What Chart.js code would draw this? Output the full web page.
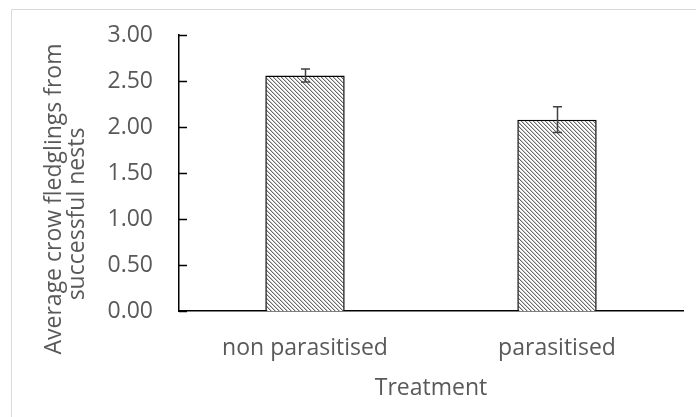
<!DOCTYPE html>
<html>
<head>
<meta charset="utf-8">
<script src="https://cdn.jsdelivr.net/npm/chart.js@4/dist/chart.umd.min.js"></script>
<style>
html,body{margin:0;padding:0;background:#fff;}
#wrap{width:696px;height:417px;position:relative;}
</style>
</head>
<body>
<div id="wrap"><canvas id="c" width="696" height="417"></canvas></div>
<script>
const categories = ["non parasitised", "parasitised"];
const means = [2.56, 2.08];
const errors = [0.07, 0.14];
const yTicks = [0, 0.5, 1, 1.5, 2, 2.5, 3];
const yTitle = ["Average crow fledglings from", "successful nests"];
const xTitle = "Treatment";

function makePattern() {
  const p = document.createElement('canvas');
  p.width = 4; p.height = 4;
  const g = p.getContext('2d');
  g.fillStyle = '#ffffff';
  g.fillRect(0, 0, 4, 4);
  g.fillStyle = '#6a6a6a';
  for (let i = 0; i < 4; i++) g.fillRect(i, i, 1, 1);
  g.fillStyle = '#c8c8c8';
  for (let i = 0; i < 4; i++) g.fillRect((i + 1) % 4, i, 1, 1);
  return g.createPattern(p, 'repeat');
}
const pattern = makePattern();

const TEXT = '#595959';
const FONT = "'Open Sans', sans-serif";
const FS = 23;

const frame = {
  id: 'frame',
  beforeDraw(chart) {
    const c = chart.ctx;
    c.save();
    c.strokeStyle = '#d9d9d9';
    c.lineWidth = 1;
    c.beginPath();
    c.moveTo(11.5, 417);
    c.lineTo(11.5, 9.5);
    c.lineTo(696, 9.5);
    c.stroke();
    c.restore();
  }
};

const yTitlePlugin = {
  id: 'yTitlePlugin',
  afterDraw(chart) {
    const c = chart.ctx;
    const xs = [54, 77];
    const ys = [199, 214];
    c.save();
    c.fillStyle = TEXT;
    c.font = FS + "px 'Open Sans', sans-serif";
    c.textAlign = 'center';
    c.textBaseline = 'middle';
    yTitle.forEach((t, i) => {
      c.save();
      c.translate(xs[i], ys[i]);
      c.rotate(-Math.PI / 2);
      c.fillText(t, 0, 0);
      c.restore();
    });
    c.restore();
  }
};

const extras = {
  id: 'extras',
  afterDatasetsDraw(chart) {
    const c = chart.ctx;
    const y = chart.scales.y;
    const ca = chart.chartArea;
    c.save();
    c.strokeStyle = '#000';
    c.lineWidth = 1.5;
    yTicks.forEach(v => {
      const py = Math.round(y.getPixelForValue(v)) + 0.5;
      c.beginPath();
      c.moveTo(ca.left, py);
      c.lineTo(ca.left + 8, py);
      c.stroke();
    });
    c.strokeStyle = '#404040';
    c.lineWidth = 1.5;
    const meta = chart.getDatasetMeta(0);
    means.forEach((m, i) => {
      const px = Math.round(meta.data[i].x) + 0.5;
      const top = y.getPixelForValue(m + errors[i]);
      const bot = y.getPixelForValue(m - errors[i]);
      c.beginPath();
      c.moveTo(px, top); c.lineTo(px, bot);
      c.moveTo(px - 4.5, top); c.lineTo(px + 4.5, top);
      c.moveTo(px - 4.5, bot); c.lineTo(px + 4.5, bot);
      c.stroke();
    });
    c.restore();
  }
};

new Chart(document.getElementById('c'), {
  type: 'bar',
  data: {
    labels: categories,
    datasets: [{
      data: means,
      backgroundColor: pattern,
      borderColor: '#000',
      borderWidth: 1.5,
      categoryPercentage: 1,
      barPercentage: 0.315
    }]
  },
  options: {
    responsive: false,
    animation: false,
    devicePixelRatio: 1,
    layout: { padding: { top: 35, right: 13, left: 0, bottom: 0 } },
    plugins: { legend: { display: false }, tooltip: { enabled: false } },
    scales: {
      y: {
        min: 0, max: 3,
        afterBuildTicks(s) { s.ticks = yTicks.map(v => ({ value: v })); },
        afterFit(s) { s.width = 179; s.paddingTop = 0; s.paddingBottom = 0; },
        border: { display: true, color: '#000', width: 1.5 },
        grid: { display: false, drawTicks: false },
        ticks: {
          color: TEXT,
          font: { family: FONT, size: FS },
          padding: 26,
          callback: v => Number(v).toFixed(2)
        },
        title: { display: false }
      },
      x: {
        afterFit(s) { s.height = 106; },
        border: { display: true, color: '#000', width: 1.5 },
        grid: { display: false, drawTicks: false },
        ticks: {
          color: TEXT,
          font: { family: FONT, size: FS },
          padding: 24
        },
        title: {
          display: true, text: xTitle, color: TEXT,
          font: { family: FONT, size: FS },
          padding: { top: 0, bottom: 15 }
        }
      }
    }
  },
  plugins: [frame, extras, yTitlePlugin]
});
</script>
</body>
</html>
